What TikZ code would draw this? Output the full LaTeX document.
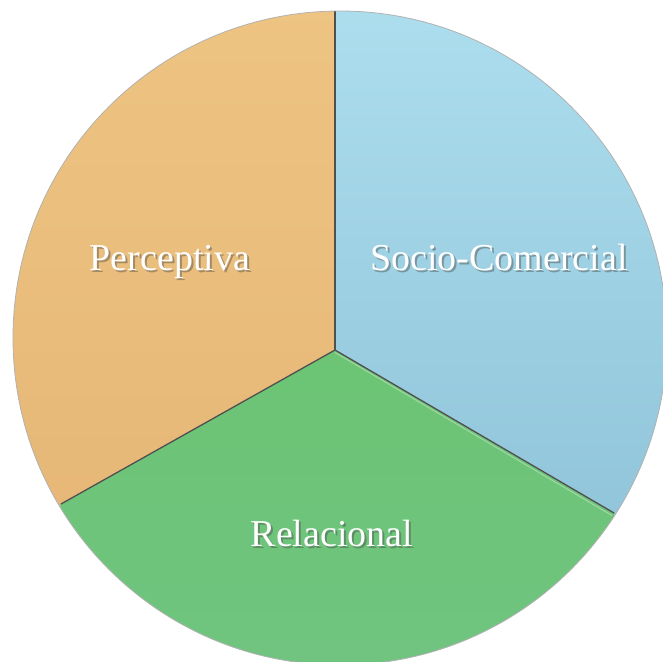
\documentclass[tikz,border=0pt]{standalone}
\usepackage{fontspec}
\setmainfont{Liberation Serif}
\usepackage{xcolor}
\usepackage{tikz}
\usetikzlibrary{positioning, calc}
\definecolor{perceptop}{RGB}{238,196,130}
\definecolor{percepbot}{RGB}{228,180,116}
\definecolor{sociotop}{RGB}{172,222,238}
\definecolor{sociobot}{RGB}{138,190,212}
\definecolor{relatop}{RGB}{108,196,116}
\definecolor{relabot}{RGB}{112,196,128}
\definecolor{edgecolor}{RGB}{80,80,80}

\begin{document}
\begin{tikzpicture}[
    x=1pt, y=-1pt,
    label/.style={font=\fontsize{38}{40}\selectfont, text=white, anchor=base, inner sep=0pt},
    shadowtext/.style={label, text=black!70, opacity=0.45},
    divider/.style={draw=edgecolor, line width=1.3pt, line cap=round},
    rim/.style={draw=black!30, line width=0.8pt}
]
    \useasboundingbox (0,0) rectangle (662,662);

    % Points of the pie
    \coordinate (center) at (340,338);
    \coordinate (hub) at (335,350);
    \coordinate (topend) at (335,11);
    \coordinate (leftend) at (61,504);
    \coordinate (rightend) at (614,513);

    % Sectors
    \begin{scope}
        \clip (center) circle (327);
        \shade[top color=perceptop, bottom color=percepbot] (hub) -- (topend) -- (0,0) -- (0,662) -- (leftend) -- cycle;
        \shade[top color=sociotop, bottom color=sociobot] (hub) -- (topend) -- (680,0) -- (680,662) -- (rightend) -- cycle;
        \shade[top color=relatop, bottom color=relabot] (hub) -- (leftend) -- (0,680) -- (680,680) -- (rightend) -- cycle;
        \draw[divider] (hub) -- (topend);
        \draw[divider] (hub) -- (leftend);
        \draw[divider] (hub) -- (rightend);
        \draw[white, opacity=0.35, line width=1pt] ($(hub)+(0,2.5)$) -- ($(rightend)+(-2,2.5)$);
    \end{scope}
    \draw[rim] (center) circle (327);

    % Labels
    \node[shadowtext] at (172,272) {Perceptiva};
    \node[label] (perceptiva) at (170,270) {Perceptiva};
    \node[shadowtext] at (501,272) {Socio-Comercial};
    \node[label] (socio) at (499,270) {Socio-Comercial};
    \node[shadowtext] at (334,548) {Relacional};
    \node[label] (relacional) at (332,546) {Relacional};
\end{tikzpicture}
\end{document}
